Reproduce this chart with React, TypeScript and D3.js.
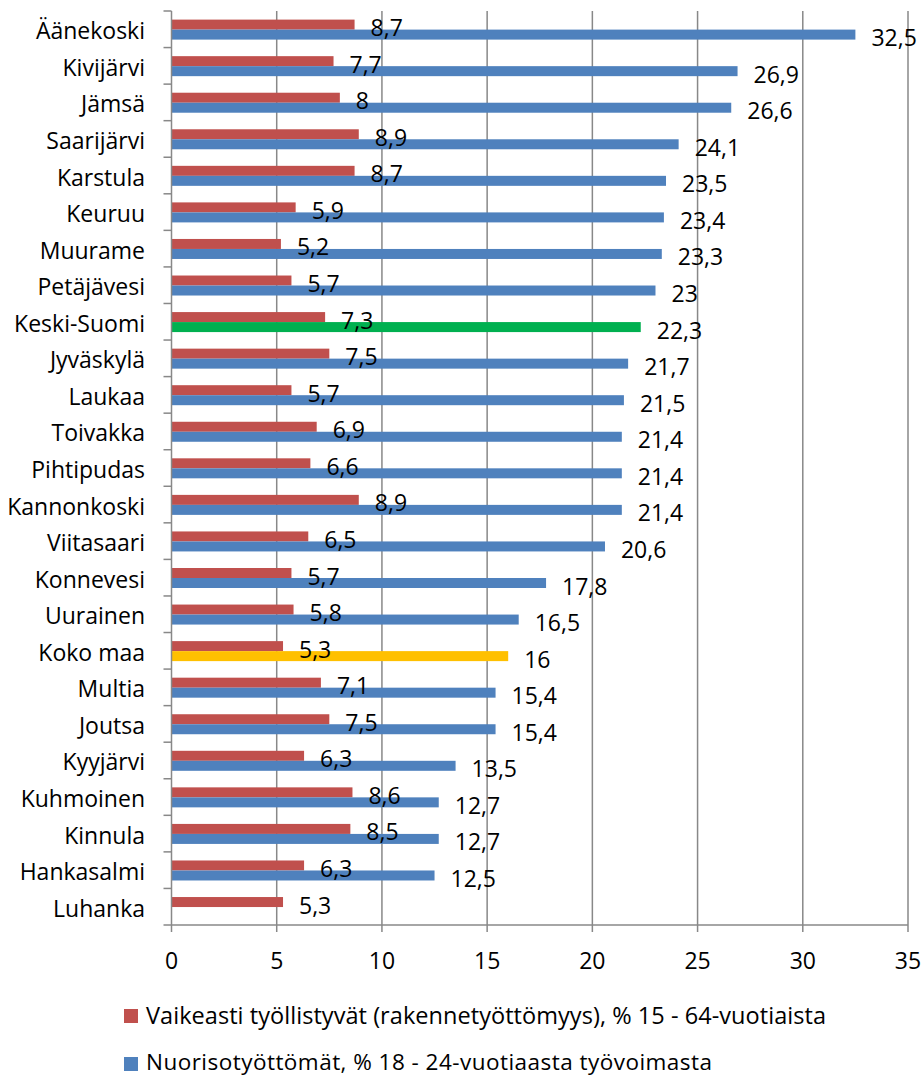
import React from "react";
import * as d3 from "d3";

const categories = ["Äänekoski","Kivijärvi","Jämsä","Saarijärvi","Karstula","Keuruu","Muurame","Petäjävesi","Keski-Suomi","Jyväskylä","Laukaa","Toivakka","Pihtipudas","Kannonkoski","Viitasaari","Konnevesi","Uurainen","Koko maa","Multia","Joutsa","Kyyjärvi","Kuhmoinen","Kinnula","Hankasalmi","Luhanka"];
const redValues = [8.7,7.7,8,8.9,8.7,5.9,5.2,5.7,7.3,7.5,5.7,6.9,6.6,8.9,6.5,5.7,5.8,5.3,7.1,7.5,6.3,8.6,8.5,6.3,5.3];
const blueValues: (number | null)[] = [32.5,26.9,26.6,24.1,23.5,23.4,23.3,23,22.3,21.7,21.5,21.4,21.4,21.4,20.6,17.8,16.5,16,15.4,15.4,13.5,12.7,12.7,12.5,null];
const xTicks = [0,5,10,15,20,25,30,35];
const legendLabels = ["Vaikeasti työllistyvät (rakennetyöttömyys), % 15 - 64-vuotiaista","Nuorisotyöttömät, % 18 - 24-vuotiaasta työvoimasta"];
const highlight: Record<string, string> = { "Keski-Suomi": "#00B050", "Koko maa": "#FFC000" };

const RED = "#C0504D";
const BLUE = "#4F81BD";
const GRID = "#888888";
const FONT = "'Open Sans', Lato, sans-serif";

export default function App() {
  const W = 922, H = 1077;
  const left = 171.5, right = 908, top = 11, bottom = 925;
  const x = d3.scaleLinear().domain([0, 35]).range([left, right]);
  const y = d3.scaleBand<string>().domain(categories).range([top, bottom]).padding(0);
  const bw = y.bandwidth();
  const barH = 10;
  const off = 8.6;
  const fmt = (v: number) => String(v).replace(".", ",");
  const fs = 23;

  return (
    <svg width={W} height={H} style={{ position: "absolute", left: 0, top: 0, background: "#fff" }} fontFamily={FONT}>
      {xTicks.slice(1).map((t) => (
        <line key={"g" + t} x1={x(t)} x2={x(t)} y1={top} y2={bottom} stroke={GRID} strokeWidth={1.5} />
      ))}
      {categories.map((c, i) => {
        const y0 = y(c)!;
        const bv = blueValues[i];
        const rv = redValues[i];
        return (
          <g key={c}>
            <rect x={x(0)} y={y0 + off} width={x(rv) - x(0)} height={barH} fill={RED} />
            {bv != null && (
              <rect x={x(0)} y={y0 + off + barH} width={x(bv) - x(0)} height={barH} fill={highlight[c] || BLUE} />
            )}
          </g>
        );
      })}
      <line x1={left} x2={left} y1={top} y2={bottom} stroke={GRID} strokeWidth={1.5} />
      <line x1={left} x2={right} y1={bottom} y2={bottom} stroke={GRID} strokeWidth={1.5} />
      {d3.range(categories.length + 1).map((i) => {
        const yy = top + i * bw;
        return <line key={"yt" + i} x1={left - 8} x2={left} y1={yy} y2={yy} stroke={GRID} strokeWidth={1.5} />;
      })}
      {xTicks.map((t) => (
        <g key={"xt" + t}>
          <line x1={x(t)} x2={x(t)} y1={bottom} y2={bottom + 7} stroke={GRID} strokeWidth={1.5} />
          <text x={x(t)} y={960} textAnchor="middle" dominantBaseline="central" fontSize={fs} fill="#000">{t}</text>
        </g>
      ))}
      {categories.map((c) => (
        <text key={"cl" + c} x={145} y={y(c)! + bw / 2 + 1} textAnchor="end" dominantBaseline="central" fontSize={fs} fill="#000">{c}</text>
      ))}
      {categories.map((c, i) => {
        const y0 = y(c)!;
        const bv = blueValues[i];
        const rv = redValues[i];
        return (
          <g key={"vl" + c}>
            <text x={x(rv) + 16} y={y0 + off + barH / 2 + 2.5} dominantBaseline="central" fontSize={fs} fill="#000">{fmt(rv)}</text>
            {bv != null && (
              <text x={x(bv) + 16} y={y0 + off + barH * 1.5 + 2.5} dominantBaseline="central" fontSize={fs} fill="#000">{fmt(bv)}</text>
            )}
          </g>
        );
      })}
      {legendLabels.map((l, i) => (
        <g key={"lg" + i} transform={`translate(124, ${1009 + i * 48})`}>
          <rect x={0} y={0} width={14} height={14} fill={i === 0 ? RED : BLUE} />
          <text x={22} y={i === 0 ? 6 : 4.5} dominantBaseline="central" fontSize={i === 0 ? 23.5 : 22.5} textLength={i === 0 ? 680 : 566} fill="#000">{l}</text>
        </g>
      ))}
    </svg>
  );
}
